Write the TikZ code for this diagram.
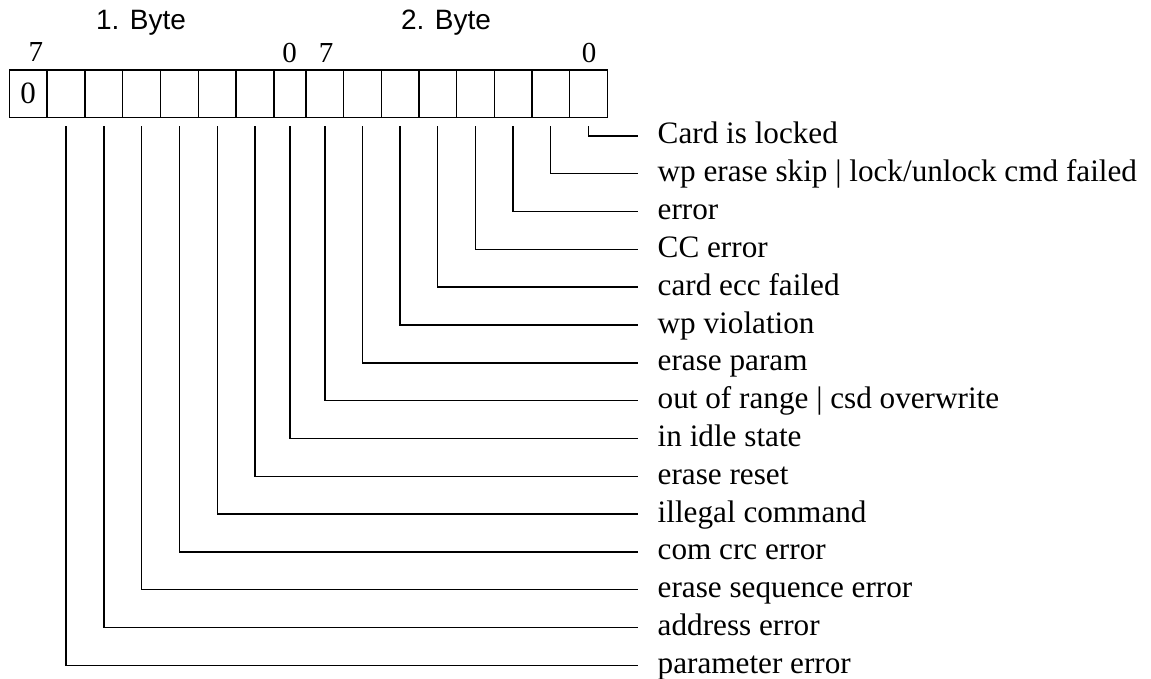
\documentclass[tikz,border=0pt]{standalone}
\usepackage{fontspec}
\setmainfont{Liberation Serif}
\setsansfont{Liberation Sans}
\begin{document}
\begin{tikzpicture}[x=0.5pt,y=-0.5pt, line width=0.7pt,
  cellbox/.style={draw, inner sep=0pt, outer sep=0pt, minimum height=23.65pt},
  lab/.style={anchor=base west, inner sep=0pt, font=\fontsize{15.6}{18}\selectfont},
  bitnum/.style={anchor=base, inner sep=0pt, font=\fontsize{14.5}{17}\selectfont},
  bytelab/.style={anchor=base, inner sep=0pt, font=\sffamily\fontsize{14}{17}\selectfont},
  conn/.style={draw, line width=0.7pt}]
\useasboundingbox (0,0) rectangle (1151,679);

% byte headings
\node[bytelab] (h1) at (141,30) {1. Byte};
\node[bytelab] (h2) at (446,30) {2. Byte};
% bit numbers
\node[bitnum] (n1) at (36,62) {7};
\node[bitnum] (n2) at (289.5,62.5) {0};
\node[bitnum] (n3) at (326,62.5) {7};
\node[bitnum] (n4) at (589,62.5) {0};

% cells
\node[cellbox, minimum width=18.9pt, font=\fontsize{15.5}{17}\selectfont] (c1) at (28.2,93.65) {\raisebox{-0.6pt}{0}\hspace{1pt}};
\foreach \k in {2,...,7}
  \node[cellbox, minimum width=18.9pt] (c\k) at ({28.2+37.8*(\k-1)},93.65) {};
\node[cellbox, minimum width=16pt] (c8) at (290,93.65) {};
\foreach \j in {9,...,16}
  \node[cellbox, minimum width=18.83pt] (c\j) at ({324.8+37.66*(\j-9)},93.65) {};

% labels and connectors
\foreach \i/\t in {0/{Card is locked},
                   1/{wp erase skip | lock/unlock cmd failed},
                   2/{error},
                   3/{CC error},
                   4/{card ecc failed},
                   5/{wp violation},
                   6/{erase param},
                   7/{out of range | csd overwrite},
                   8/{in idle state},
                   9/{erase reset},
                   10/{illegal command},
                   11/{com crc error},
                   12/{erase sequence error},
                   13/{address error},
                   14/{parameter error}}{
  \node[lab] (L\i) at (657,{144+37.8*\i}) {\t};
  \pgfmathtruncatemacro\k{16-\i}
  \draw[conn] ([yshift=-4.5pt]c\k.south) |- ([xshift=-9.5pt,yshift=4pt]L\i.base west);
}
\end{tikzpicture}
\end{document}
